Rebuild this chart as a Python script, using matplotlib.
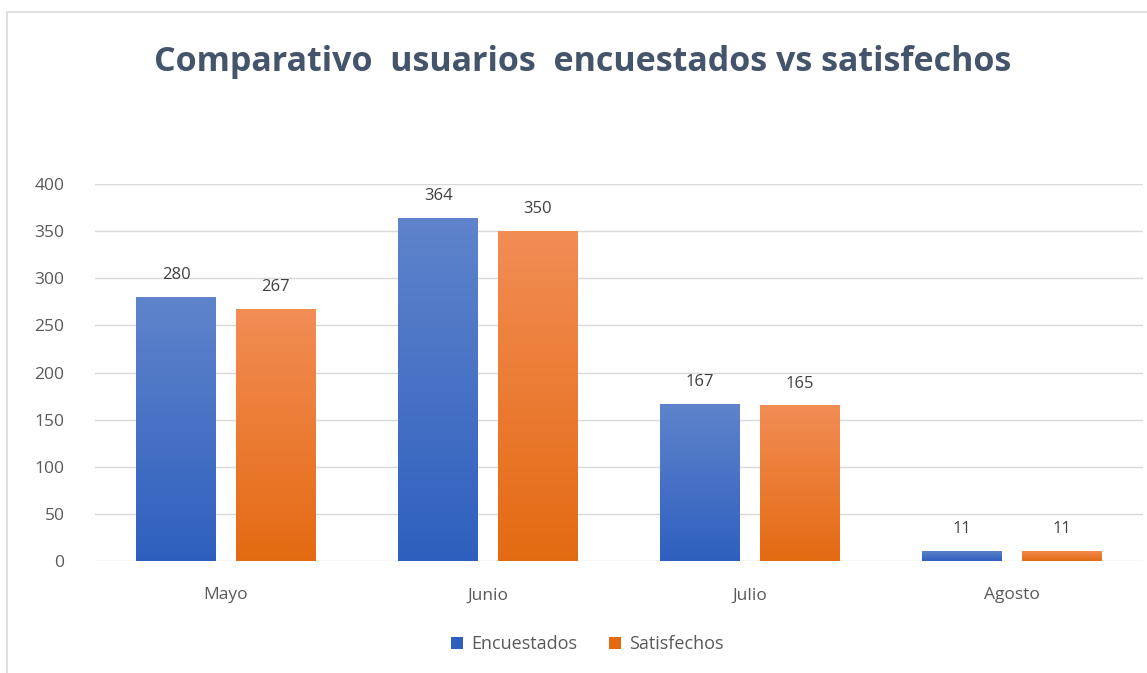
import numpy as np
import matplotlib.pyplot as plt
from matplotlib.colors import LinearSegmentedColormap
from matplotlib.patches import Rectangle
import matplotlib
matplotlib.use('Agg')

plt.rcParams['font.family'] = ['Open Sans', 'DejaVu Sans']

months = ['Mayo', 'Junio', 'Julio', 'Agosto']
encuestados = [280, 364, 167, 11]
satisfechos = [267, 350, 165, 11]
series_names = ['Encuestados', 'Satisfechos']

# (top colour, bottom colour) for the gradient fill
grad_blue = ('#5f84cc', '#2f5fbe')
grad_orange = ('#f28d55', '#e46a12')

fig = plt.figure(figsize=(11.47, 6.73), dpi=100, facecolor='white')
ax = fig.add_axes([0.0828, 0.1664, 0.9137, 0.5602])

x = np.arange(len(months))
width = 0.305
offset = 0.19

def gradient_bars(xpos, vals, colors, label):
    bars = ax.bar(xpos, vals, width, color=colors[1], label=label, zorder=3)
    cmap = LinearSegmentedColormap.from_list('g', [colors[1], colors[0]])
    grad = np.linspace(0, 1, 256).reshape(-1, 1)
    for b in bars:
        x0, y0 = b.get_x(), b.get_y()
        w, h = b.get_width(), b.get_height()
        im = ax.imshow(grad, cmap=cmap, origin='lower', aspect='auto',
                       extent=[x0, x0 + w, y0, y0 + h], zorder=4)
        im.set_clip_path(b)
        ax.annotate(str(int(h)), (x0 + w / 2, h), xytext=(0, 10),
                    textcoords='offset points', ha='center', va='bottom',
                    fontsize=12, color='#404040', zorder=5)
    return bars

gradient_bars(x - offset, encuestados, grad_blue, series_names[0])
gradient_bars(x + offset, satisfechos, grad_orange, series_names[1])

ax.set_xlim(-0.5, len(months) - 0.5)
ax.set_ylim(0, 400)
ax.set_yticks(range(0, 401, 50))
ax.set_xticks(x)
ax.set_xticklabels(months)
ax.tick_params(axis='both', length=0, labelsize=12.5, labelcolor='#595959')
ax.tick_params(axis='x', pad=19)
ax.tick_params(axis='y', pad=22)
ax.grid(axis='y', color='#d9d9d9', linewidth=1, zorder=0)
ax.set_axisbelow(True)
for s in ax.spines.values():
    s.set_visible(False)

fig.text(0.508, 0.908, 'Comparativo  usuarios  encuestados vs satisfechos',
         ha='center', va='center', fontsize=24.5, fontweight='bold', color='#44546a')

leg = fig.legend(loc='center', bbox_to_anchor=(0.512, 0.043), ncol=2, frameon=False,
                 fontsize=13, handlelength=0.65, handleheight=0.65, columnspacing=1.8,
                 handletextpad=0.45)
for t in leg.get_texts():
    t.set_color('#595959')

# chart-area border
fig.patches.append(Rectangle((7 / 1147, -0.01), 1.0, 1 - 12 / 673 + 0.01,
                             transform=fig.transFigure, fill=False,
                             edgecolor='#d9d9d9', linewidth=1.2))

plt.savefig('out.png', dpi=100, facecolor='white')
plt.close()
